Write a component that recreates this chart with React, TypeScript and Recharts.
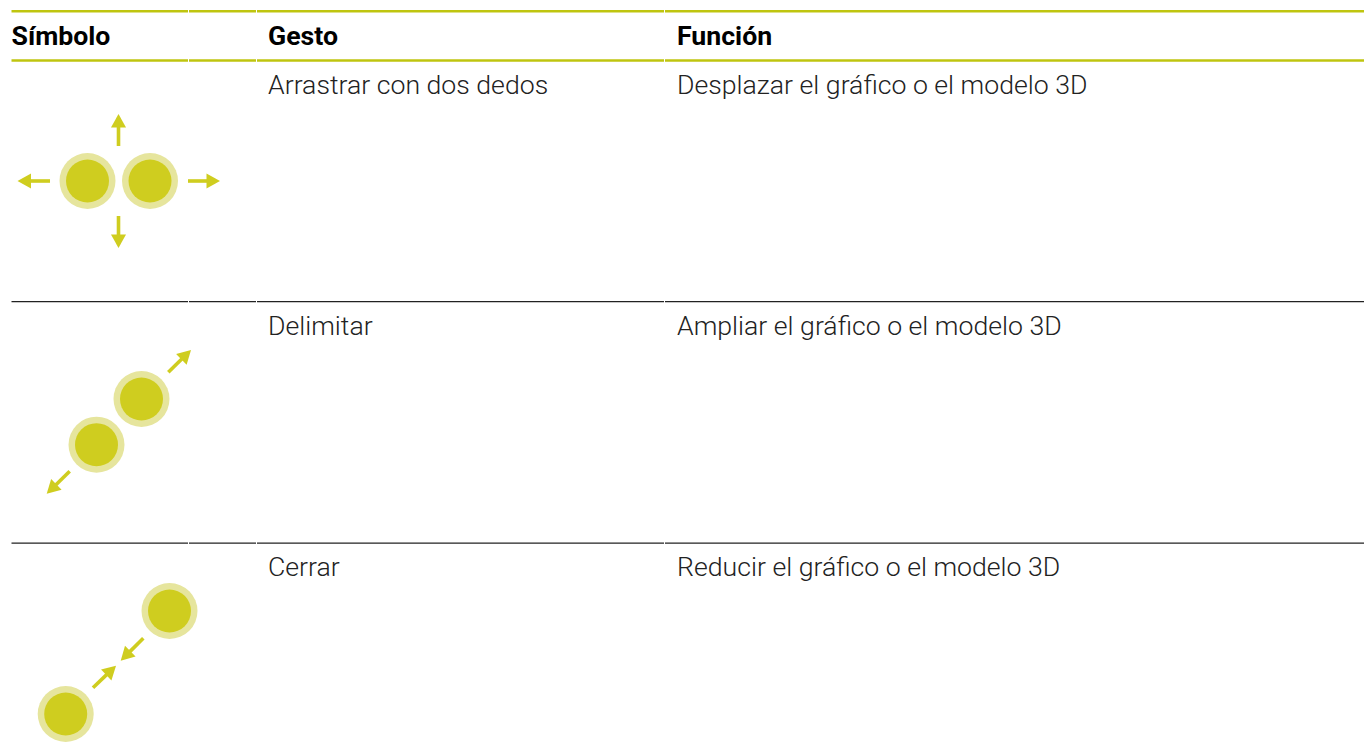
import {
  ScatterChart,
  Scatter,
  XAxis,
  YAxis,
  ReferenceLine,
} from 'recharts'

const WIDTH = 1364
const HEIGHT = 742

const columnTitles = ['Símbolo', 'Gesto', 'Función']
const columnStarts = [11.5, 268, 677]
const gestures = ['Arrastrar con dos dedos', 'Delimitar', 'Cerrar']
const functions = [
  'Desplazar el gráfico o el modelo 3D',
  'Ampliar el gráfico o el modelo 3D',
  'Reducir el gráfico o el modelo 3D',
]
const headerBaseline = 44.5
const rowBaselines = [94, 335, 576]

const accentRules = [11.3, 60.5]
const darkRules = [301.6, 543.1]
const ruleBreaks = [11.5, 188, 256, 664, 1364]

const touchX = [87.5, 150, 141.5, 96.5, 169.5, 65.7]
const touchY = [181, 181, 399, 444.7, 611, 714]

const arrowTailX = [118.5, 118.5, 50, 188, 168.3, 69.7, 143.3, 93]
const arrowTailY = [146, 216, 181, 181, 372.3, 471.3, 638.3, 687.7]
const arrowTipX = [118.5, 118.5, 17.5, 220, 191, 46.7, 120.7, 116]
const arrowTipY = [114, 248, 181, 181, 350, 493.7, 660.7, 665.7]

const HEAD_LENGTH = 13.5

const touches = touchX.map((x, i) => ({ x, y: touchY[i] }))
const arrows = arrowTailX.map((x, i) => {
  const angle = Math.atan2(arrowTipY[i] - arrowTailY[i], arrowTipX[i] - x)
  return {
    x: arrowTipX[i],
    y: arrowTipY[i],
    tailX: x,
    tailY: arrowTailY[i],
    // the shaft stops inside the head so the point stays sharp
    neckX: arrowTipX[i] - Math.cos(angle) * (HEAD_LENGTH - 2),
    neckY: arrowTipY[i] - Math.sin(angle) * (HEAD_LENGTH - 2),
    angle: (angle * 180) / Math.PI,
  }
})
const labels = [
  ...columnTitles.map((text, i) => ({ x: columnStarts[i], y: headerBaseline, text, bold: true })),
  ...gestures.map((text, i) => ({ x: columnStarts[1], y: rowBaselines[i], text, bold: false })),
  ...functions.map((text, i) => ({ x: columnStarts[2], y: rowBaselines[i], text, bold: false })),
]

const ACCENT = '#bfc50f'
const YELLOW = '#cfcd1f'
const HALO = '#e6e59d'

function TouchDot({ cx, cy }: any) {
  return (
    <g>
      <circle cx={cx} cy={cy} r={28} fill={HALO} />
      <circle cx={cx} cy={cy} r={21.5} fill={YELLOW} />
    </g>
  )
}

function ArrowHead({ cx, cy, payload }: any) {
  return (
    <polygon
      points={`0,0 ${-HEAD_LENGTH},-7.5 ${-HEAD_LENGTH},7.5`}
      fill={YELLOW}
      transform={`translate(${cx} ${cy}) rotate(${payload.angle})`}
    />
  )
}

function CellText({ cx, cy, payload }: any) {
  return (
    <text
      x={cx}
      y={cy}
      fontFamily="Roboto"
      fontSize={26.67}
      fontWeight={payload.bold ? 700 : 300}
      fill={payload.bold ? '#000' : '#222'}
    >
      {payload.text}
    </text>
  )
}

export default function App() {
  return (
    <div style={{ position: 'absolute', left: 0, top: 0, width: WIDTH, height: HEIGHT }}>
      <ScatterChart
        width={WIDTH}
        height={HEIGHT}
        margin={{ top: 0, right: 0, bottom: 0, left: 0 }}
      >
        <XAxis type="number" dataKey="x" domain={[0, WIDTH]} hide />
        <YAxis type="number" dataKey="y" domain={[0, HEIGHT]} reversed hide />
        {accentRules.flatMap((y) =>
          ruleBreaks.slice(1).map((end, i) => (
            <ReferenceLine
              key={`${y}-${end}`}
              segment={[
                { x: ruleBreaks[i] + (i ? 1 : 0), y },
                { x: end, y },
              ]}
              stroke={ACCENT}
              strokeWidth={2.6}
            />
          )),
        )}
        {darkRules.flatMap((y) =>
          ruleBreaks.slice(1).map((end, i) => (
            <ReferenceLine
              key={`${y}-${end}`}
              segment={[
                { x: ruleBreaks[i] + (i ? 1 : 0), y },
                { x: end, y },
              ]}
              stroke="#222"
              strokeWidth={1.3}
            />
          )),
        )}
        {arrows.map((a) => (
          <ReferenceLine
            key={`${a.tailX}-${a.tailY}`}
            segment={[
              { x: a.tailX, y: a.tailY },
              { x: a.neckX, y: a.neckY },
            ]}
            stroke={YELLOW}
            strokeWidth={3.6}
          />
        ))}
        <Scatter data={touches} shape={TouchDot} isAnimationActive={false} />
        <Scatter data={arrows} shape={ArrowHead} isAnimationActive={false} />
        <Scatter data={labels} shape={CellText} isAnimationActive={false} />
      </ScatterChart>
    </div>
  )
}
